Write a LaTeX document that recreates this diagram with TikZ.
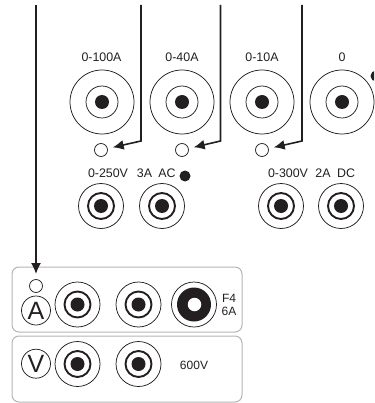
\documentclass[tikz,border=0pt]{standalone}
\usepackage{fontspec}
\setmainfont{Liberation Sans}
\usetikzlibrary{arrows.meta}
\definecolor{ink}{HTML}{231F20}
\definecolor{panelgray}{HTML}{B4B4B4}
\tikzset{
  x=1pt,y=-1pt,
  disc/.style={circle,inner sep=0pt,outer sep=0pt,minimum size=#1},
  ring/.style={disc=#1,draw=ink,line width=0.75pt},
  thickring/.style={disc=#1,draw=ink,line width=1.9pt},
  blob/.style={disc=#1,fill=ink},
  lamp/.style={disc=13pt,draw=ink,line width=0.75pt},
  lbl/.style={text=ink,font=\fontsize{12.4}{13}\selectfont,inner sep=0pt},
  lblsmall/.style={text=ink,font=\fontsize{12}{12}\selectfont,inner sep=0pt,align=left},
  lead/.style={draw=ink,line width=1.6pt,-{Latex[length=11pt,width=10pt]},shorten >=12pt},
  panel/.style={draw=panelgray,line width=1pt,rounded corners=7pt},
  badge/.style={disc=29pt,draw=ink,line width=0.75pt,text=ink,font=\fontsize{25}{26}\selectfont},
  pics/bigjack/.style={code={
    \node[ring=64pt] {}; \node[ring=32pt] {}; \node[blob=14pt] {};}},
  pics/smalljack/.style={code={
    \node[ring=45pt] {}; \node[thickring=26pt] {}; \node[blob=14pt] {};}}
}
\begin{document}
\begin{tikzpicture}
\useasboundingbox (0,0) rectangle (374,403);
\draw[panel] (12,267) rectangle (242,332);
\draw[panel] (12,336) rectangle (242,402);
% top row
\pic at (102,102) {bigjack};
\pic at (182,102) {bigjack};
\pic at (262,102) {bigjack};
\pic at (342,102) {bigjack};
\begin{scope}
\clip (0,0) rectangle (374,403);
\node[blob=11pt] (topdot) at (376,76) {};
\end{scope}
\node[lbl] (t1) at (101.5,57) {0-100A};
\node[lbl] (t2) at (182,57) {0-40A};
\node[lbl] (t3) at (262,57) {0-10A};
\node[lbl] (t4) at (342,57) {0};
% lamps
\node[lamp] (l1) at (101,150) {};
\node[lamp] (l2) at (182,150) {};
\node[lamp] (l3) at (262,150) {};
\node[lamp] (l4) at (36,286) {};
% second row
\pic at (101,206) {smalljack};
\pic at (162,206) {smalljack};
\pic at (281,206) {smalljack};
\pic at (341,206) {smalljack};
\node[blob=11pt] (acdot) at (185,176) {};
\node[lbl] (b1) at (108,173) {0-250V};
\node[lbl] (b2) at (144.5,173) {3A};
\node[lbl] (b3) at (167,173) {AC};
\node[lbl] (b4) at (288,173) {0-300V};
\node[lbl] (b5) at (323,173) {2A};
\node[lbl] (b6) at (346,173) {DC};
% A panel
\node[badge] (ba) at (36,310.5) {A};
\pic at (77.5,304.5) {smalljack};
\pic at (138.5,304.5) {smalljack};
\node[ring=45pt] (fo) at (194,304.5) {};
\node[blob=34pt] (fm) at (194,304.5) {};
\node[disc=13.5pt,fill=white] (fi) at (194.5,304.5) {};
\node[lblsmall] (f4) at (229,298) {F4};
\node[lblsmall] (f6) at (229,311) {6A};
% V panel
\node[badge] (bv) at (36,363.7) {V};
\pic at (77.5,364) {smalljack};
\pic at (138.5,364) {smalljack};
\node[lblsmall] (v6) at (194,365) {600V};
% leads
\coordinate (s1) at (141,5); \coordinate (k1) at (141,141);
\coordinate (s2) at (220.5,5); \coordinate (k2) at (220.5,141);
\coordinate (s3) at (302,5); \coordinate (k3) at (302,141);
\coordinate (s4) at (36,5);
\path[lead] (s1) -- (k1) -- (l1.center);
\path[lead] (s2) -- (k2) -- (l2.center);
\path[lead] (s3) -- (k3) -- (l3.center);
\path[lead] (s4) -- (l4.center);
\end{tikzpicture}
\end{document}
